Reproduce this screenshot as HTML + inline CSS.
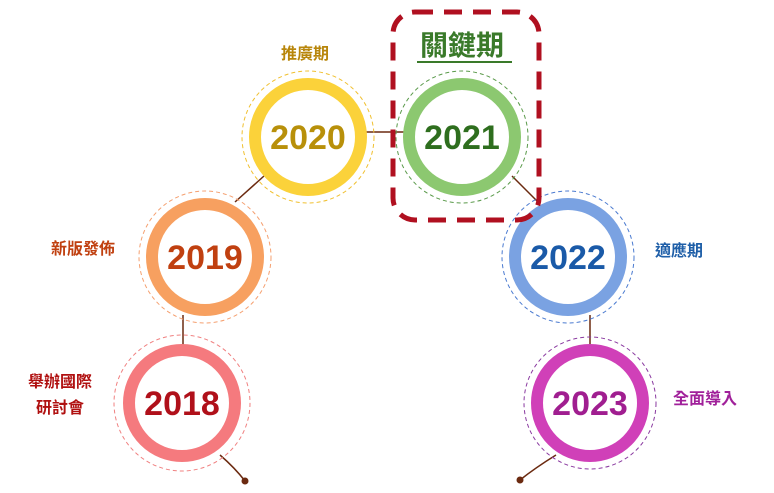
<!DOCTYPE html>
<html><head><meta charset="utf-8"><style>
body{margin:0;background:#fff;width:774px;height:488px;overflow:hidden}
svg text{font-family:"Liberation Sans","Noto Sans CJK TC",sans-serif}
</style></head><body>
<svg width="774" height="488" viewBox="0 0 774 488" xmlns="http://www.w3.org/2000/svg">
<g stroke="#6b2a10" stroke-width="1.5" fill="none">
<path d="M220 455 Q235 468 245 481"/>
<path d="M556 455 Q535 468 520 480"/>
<line x1="183" y1="315" x2="183" y2="345"/>
<line x1="235" y1="202" x2="264" y2="176"/>
<line x1="365" y1="132" x2="405" y2="132"/>
<line x1="512" y1="176" x2="538" y2="202"/>
<line x1="590" y1="315" x2="590" y2="345"/>
</g>
<circle cx="245" cy="481" r="3.5" fill="#6b2a10"/>
<circle cx="520" cy="480" r="3.5" fill="#6b2a10"/>
<g font-weight="bold" font-size="34" text-anchor="middle">
<circle cx="182" cy="403" r="68" fill="none" stroke="#f08080" stroke-dasharray="4 3"/>
<circle cx="182" cy="403" r="53" fill="#fff" stroke="#f57a7e" stroke-width="12"/>
<text x="182" y="415" fill="#b0101a">2018</text>
<circle cx="205" cy="257" r="66" fill="none" stroke="#f5a070" stroke-dasharray="4 3"/>
<circle cx="205" cy="257" r="53" fill="#fff" stroke="#f7a060" stroke-width="12"/>
<text x="205" y="269" fill="#c04010">2019</text>
<circle cx="308" cy="137" r="66" fill="none" stroke="#f0c030" stroke-dasharray="4 3"/>
<circle cx="308" cy="137" r="53" fill="#fff" stroke="#fbd23a" stroke-width="12"/>
<text x="308" y="149" fill="#b8900a">2020</text>
<circle cx="462" cy="137" r="66" fill="none" stroke="#5a9a4a" stroke-dasharray="4 3"/>
<circle cx="462" cy="137" r="53" fill="#fff" stroke="#8cc870" stroke-width="12"/>
<text x="462" y="149" fill="#2e6e1e">2021</text>
<circle cx="568" cy="257" r="66" fill="none" stroke="#4a7ad0" stroke-dasharray="4 3"/>
<circle cx="568" cy="257" r="53" fill="#fff" stroke="#7aa2e2" stroke-width="12"/>
<text x="568" y="269" fill="#1a5aa8">2022</text>
<circle cx="590" cy="403" r="66" fill="none" stroke="#8a3aa0" stroke-dasharray="4 3"/>
<circle cx="590" cy="403" r="53" fill="#fff" stroke="#d040b8" stroke-width="12"/>
<text x="590" y="415" fill="#a01e90">2023</text>
</g>
<rect x="393" y="12" width="146" height="208" rx="22" fill="none" stroke="#b01020" stroke-width="5" stroke-dasharray="18 11"/>
<text x="462" y="55" font-size="28" font-weight="bold" text-anchor="middle" fill="#3a7a2a">關鍵期</text>
<line x1="417" y1="62" x2="512" y2="62" stroke="#3a7a2a" stroke-width="2"/>
<g font-size="16" font-weight="bold" text-anchor="middle">
<text x="305" y="59" fill="#b8860b">推廣期</text>
<text x="83" y="254" fill="#c04010">新版發佈</text>
<text x="679" y="256" fill="#1f5fa8">適應期</text>
<text x="705" y="404" fill="#a0209a">全面導入</text>
<text x="60" y="387" fill="#b01010">舉辦國際</text>
<text x="60" y="413" fill="#b01010">研討會</text>
</g>
</svg>
</body></html>
